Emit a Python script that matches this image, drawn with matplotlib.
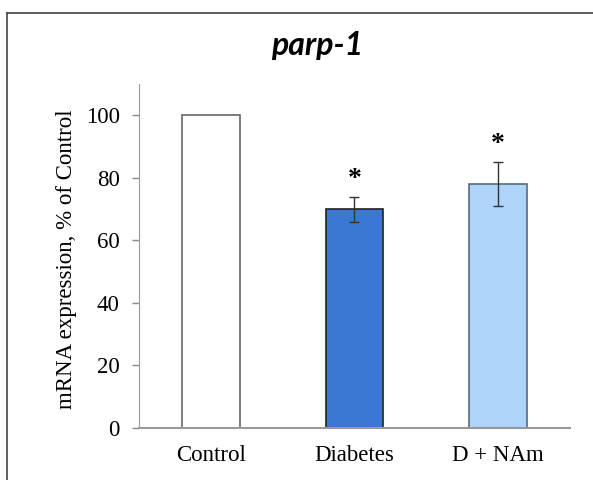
import numpy as np
import matplotlib
matplotlib.use("Agg")
import matplotlib.pyplot as plt
from matplotlib.lines import Line2D

# data
groups = ["Control", "Diabetes", "D + NAm"]
expression = [100, 70, 78]
sem = [0, 4, 7]
significant = [False, True, True]
bar_colors = ["#ffffff", "#3a78d4", "#aed4fa"]
edge_colors = ["#666666", "#222222", "#5a6a7a"]

fig = plt.figure(figsize=(5.93, 4.80), dpi=100)
ax = fig.add_axes([0.2344, 0.1083, 0.7266, 0.7167])

x = np.arange(len(groups))
ax.bar(x, expression, width=0.4, color=bar_colors, edgecolor=edge_colors, linewidth=1.2, zorder=2)
for xi, v, e in zip(x, expression, sem):
    if e > 0:
        ax.errorbar(xi, v, yerr=e, fmt="none", ecolor="#333333", elinewidth=1, capsize=3.5, capthick=1, zorder=3)
for xi, v, e, s in zip(x, expression, sem, significant):
    if s:
        ax.text(xi, v + e + 1.5, "*", ha="center", va="bottom", fontsize=20,
                family="Liberation Serif", fontweight="bold", color="black")

ax.set_xlim(-0.5, 2.5)
ax.set_ylim(0, 110)
ax.set_yticks([0, 20, 40, 60, 80, 100])
ax.set_xticks(x)
ax.set_xticklabels(groups, family="Liberation Serif", fontsize=16.5)
for lab in ax.get_yticklabels():
    lab.set_family("Liberation Serif")
    lab.set_fontsize(16.5)
ax.tick_params(axis="x", length=0, pad=12)
ax.tick_params(axis="y", length=5, width=1, color="#888888", pad=9)
ax.spines["top"].set_visible(False)
ax.spines["right"].set_visible(False)
ax.spines["left"].set_color("#999999")
ax.spines["bottom"].set_color("#999999")
ax.spines["bottom"].set_linewidth(1.5)
ax.set_ylabel("mRNA expression, % of Control", family="Liberation Serif", fontsize=16.5)
ax.yaxis.set_label_coords(-0.144, 0.49)

fig.text(0.535, 0.906, "parp-1", ha="center", va="center", fontsize=23,
         family="Lato", fontweight="bold", fontstyle="italic")

# outer frame (top and left edges)
fig.add_artist(Line2D([7 / 593, 1.0], [1 - 13 / 480, 1 - 13 / 480], color="#444444", linewidth=1.2))
fig.add_artist(Line2D([7 / 593, 7 / 593], [0, 1 - 13 / 480], color="#444444", linewidth=1.2))

fig.savefig("out.png", dpi=100)
